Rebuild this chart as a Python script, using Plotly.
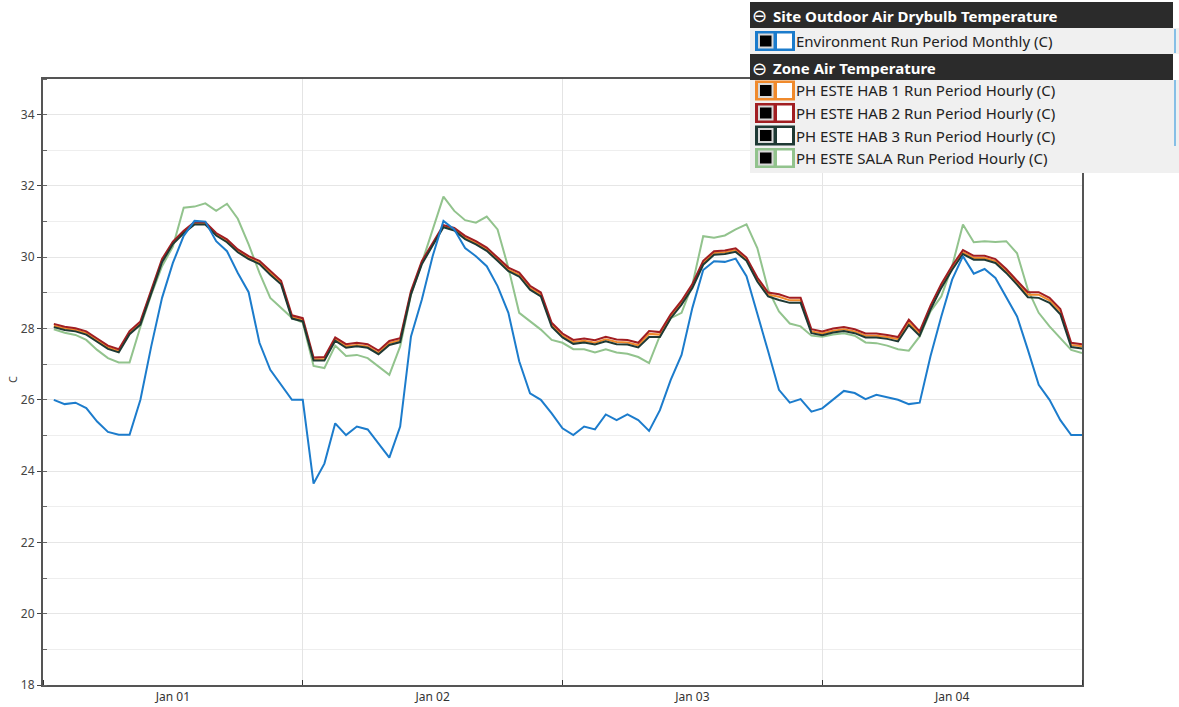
import pandas as pd
import plotly.graph_objects as go

# hourly values, hour-ending 01:00 Jan 01 .. 24:00 Jan 04
outdoor = [26.0, 25.88, 25.92, 25.77, 25.39, 25.1, 25.02, 25.02, 26.0, 27.5, 28.86, 29.84,
           30.6, 31.02, 31.0, 30.45, 30.17, 29.56, 29.02, 27.6, 26.84, 26.42, 26.0, 26.0,
           23.65, 24.21, 25.34, 25.01, 25.25, 25.17, 24.78, 24.38, 25.25, 27.78, 28.81, 30.03,
           31.02, 30.78, 30.26, 30.03, 29.75, 29.19, 28.44, 27.08, 26.18, 26.0, 25.62, 25.2,
           25.01, 25.25, 25.17, 25.59, 25.43, 25.59, 25.43, 25.13, 25.71, 26.56, 27.26, 28.58,
           29.64, 29.89, 29.87, 29.96, 29.47, 28.44, 27.36, 26.28, 25.92, 26.02, 25.67, 25.76,
           26.0, 26.25, 26.19, 26.02, 26.14, 26.07, 26.0, 25.88, 25.92, 27.22, 28.34, 29.37,
           30.03, 29.54, 29.67, 29.42, 28.9, 28.34, 27.4, 26.42, 26.0, 25.43, 25.01, 25.01]

hab1 = [28.08, 28.0, 27.96, 27.87, 27.67, 27.47, 27.37, 27.88, 28.15, 29.05, 29.9, 30.4,
        30.7, 30.95, 30.95, 30.64, 30.45, 30.17, 29.98, 29.84, 29.55, 29.28, 28.32, 28.24,
        27.14, 27.14, 27.7, 27.5, 27.54, 27.5, 27.32, 27.59, 27.67, 29.0, 29.84, 30.36,
        30.87, 30.78, 30.55, 30.4, 30.22, 29.94, 29.65, 29.51, 29.14, 28.95, 28.1, 27.8,
        27.62, 27.66, 27.6, 27.7, 27.62, 27.61, 27.53, 27.85, 27.83, 28.34, 28.72, 29.19,
        29.84, 30.12, 30.14, 30.2, 29.94, 29.37, 28.95, 28.89, 28.79, 28.79, 27.92, 27.86,
        27.94, 27.98, 27.92, 27.8, 27.8, 27.76, 27.7, 28.17, 27.85, 28.58, 29.19, 29.7,
        30.14, 29.98, 29.98, 29.89, 29.61, 29.28, 28.95, 28.95, 28.79, 28.48, 27.54, 27.5]

hab2 = [28.13, 28.05, 28.01, 27.92, 27.72, 27.52, 27.42, 27.93, 28.2, 29.1, 29.95, 30.44,
        30.74, 30.99, 30.98, 30.68, 30.5, 30.22, 30.03, 29.9, 29.61, 29.34, 28.37, 28.29,
        27.19, 27.2, 27.75, 27.56, 27.6, 27.56, 27.38, 27.65, 27.73, 29.05, 29.89, 30.4,
        30.9, 30.82, 30.6, 30.45, 30.27, 29.99, 29.71, 29.57, 29.2, 29.01, 28.16, 27.86,
        27.68, 27.72, 27.67, 27.77, 27.69, 27.68, 27.6, 27.93, 27.9, 28.4, 28.78, 29.25,
        29.9, 30.17, 30.19, 30.25, 29.99, 29.43, 29.01, 28.96, 28.86, 28.86, 27.98, 27.92,
        28.0, 28.04, 27.98, 27.86, 27.86, 27.82, 27.76, 28.25, 27.92, 28.64, 29.25, 29.76,
        30.2, 30.04, 30.04, 29.95, 29.67, 29.34, 29.02, 29.02, 28.86, 28.55, 27.6, 27.56]

hab3 = [28.04, 27.96, 27.92, 27.83, 27.63, 27.43, 27.33, 27.84, 28.11, 29.01, 29.86, 30.37,
        30.67, 30.92, 30.92, 30.61, 30.42, 30.14, 29.95, 29.81, 29.51, 29.24, 28.28, 28.2,
        27.1, 27.1, 27.66, 27.46, 27.5, 27.46, 27.28, 27.54, 27.62, 28.96, 29.8, 30.33,
        30.84, 30.75, 30.51, 30.36, 30.18, 29.9, 29.61, 29.46, 29.09, 28.9, 28.05, 27.75,
        27.57, 27.61, 27.55, 27.64, 27.56, 27.55, 27.47, 27.76, 27.76, 28.29, 28.67, 29.14,
        29.79, 30.07, 30.09, 30.15, 29.9, 29.32, 28.9, 28.8, 28.72, 28.72, 27.87, 27.81,
        27.89, 27.93, 27.87, 27.75, 27.75, 27.71, 27.64, 28.1, 27.8, 28.53, 29.14, 29.65,
        30.09, 29.93, 29.93, 29.84, 29.56, 29.23, 28.88, 28.86, 28.72, 28.4, 27.48, 27.44]

sala = [27.98, 27.88, 27.82, 27.68, 27.4, 27.17, 27.05, 27.05, 28.05, 28.95, 29.75, 30.3,
        31.39, 31.42, 31.51, 31.3, 31.5, 31.08, 30.36, 29.56, 28.86, 28.58, 28.3, 28.17,
        26.95, 26.89, 27.52, 27.23, 27.26, 27.17, 26.93, 26.7, 27.5, 28.95, 29.84, 30.78,
        31.7, 31.3, 31.04, 30.97, 31.14, 30.78, 29.7, 28.44, 28.2, 27.97, 27.68, 27.6,
        27.42, 27.42, 27.33, 27.42, 27.33, 27.29, 27.2, 27.03, 27.8, 28.29, 28.44, 29.23,
        30.59, 30.55, 30.61, 30.78, 30.92, 30.26, 29.09, 28.48, 28.14, 28.06, 27.8, 27.77,
        27.83, 27.87, 27.8, 27.61, 27.59, 27.52, 27.42, 27.38, 27.78, 28.48, 28.9, 29.75,
        30.92, 30.42, 30.45, 30.43, 30.45, 30.11, 29.09, 28.44, 28.06, 27.73, 27.4, 27.31]

times = pd.date_range('2023-01-01 01:00', periods=96, freq='h')

colors = {'out': '#1c7ccc', 'hab1': '#f08a2c', 'hab2': '#a11e22',
          'hab3': '#1e3934', 'sala': '#92c38d'}

fig = go.Figure()
for name, ys, col in [('PH ESTE SALA', sala, colors['sala']),
                      ('PH ESTE HAB 1', hab1, colors['hab1']),
                      ('PH ESTE HAB 2', hab2, colors['hab2']),
                      ('PH ESTE HAB 3', hab3, colors['hab3']),
                      ('Environment', outdoor, colors['out'])]:
    fig.add_trace(go.Scatter(x=times, y=ys, mode='lines', name=name,
                             line=dict(color=col, width=2)))

W, H = 1179, 707
ML, MR, MT, MB = 43, 97, 79, 22
PW, PH = W - ML - MR, H - MT - MB


def fx(px):
    return (px - ML) / PW


def fy(py):
    return (H - MB - py) / PH


shapes = []
annots = []


def rect(x0, y0, x1, y1, fill):
    shapes.append(dict(type='rect', xref='paper', yref='paper', layer='above',
                       x0=fx(x0), x1=fx(x1), y0=fy(y1), y1=fy(y0),
                       fillcolor=fill, line=dict(width=0)))


def text(x, y, s, size=14, color='#222', family='Noto Sans'):
    annots.append(dict(xref='paper', yref='paper', x=fx(x), y=fy(y), text=s,
                       showarrow=False, xanchor='left', yanchor='middle',
                       font=dict(size=size, color=color, family=family)))


# legend panel (top right)
rect(750, 28, 1179, 54, '#f0f0f0')
rect(750, 80, 1179, 173, '#f0f0f0')
rect(750, 2, 1173, 28, '#2b2b2b')
rect(750, 54, 1173, 80, '#2b2b2b')
for y0, y1 in [(29, 53), (80, 146)]:
    shapes.append(dict(type='line', xref='paper', yref='paper', layer='above',
                       x0=fx(1175), x1=fx(1175), y0=fy(y0), y1=fy(y1),
                       line=dict(color='#86bfe6', width=2)))

text(750, 16, '⊖', size=18, color='white', family='DejaVu Sans')
text(771, 16, '<b>Site Outdoor Air Drybulb Temperature</b>', size=15, color='white')
text(750, 68, '⊖', size=18, color='white', family='DejaVu Sans')
text(771, 68, '<b>Zone Air Temperature</b>', size=15, color='white')

rows = [(41, colors['out'], 'Environment Run Period Monthly (C)'),
        (90.5, colors['hab1'], 'PH ESTE HAB 1 Run Period Hourly (C)'),
        (113, colors['hab2'], 'PH ESTE HAB 2 Run Period Hourly (C)'),
        (135.5, colors['hab3'], 'PH ESTE HAB 3 Run Period Hourly (C)'),
        (158, colors['sala'], 'PH ESTE SALA Run Period Hourly (C)')]
for cy, col, label in rows:
    rect(755, cy - 10, 795, cy + 10, col)
    rect(758, cy - 7.5, 773.5, cy + 7.5, '#d8d8d8')
    rect(760, cy - 5.5, 771.5, cy + 5.5, '#000000')
    rect(777, cy - 7.5, 792, cy + 7.5, '#ffffff')
    text(794, cy, label, size=15, color='#222')

# y axis title
annots.append(dict(xref='paper', yref='paper', x=fx(12), y=fy(380), text='C',
                   showarrow=False, textangle=-90, xanchor='center', yanchor='middle',
                   font=dict(size=11, color='#444', family='Noto Sans')))

fig.update_layout(
    width=W, height=H, showlegend=False, autosize=False,
    margin=dict(l=ML, r=MR, t=MT, b=MB, pad=0, autoexpand=False),
    paper_bgcolor='white', plot_bgcolor='white',
    font=dict(family='Noto Sans', size=11, color='#444'),
    shapes=shapes, annotations=annots,
    xaxis=dict(type='date', range=['2023-01-01 00:00', '2023-01-05 00:00'],
               tick0='2023-01-01', dtick=86400000, tickformat='%b %d',
               ticklabelmode='period', ticks='inside', ticklen=5, tickcolor='#333',
               showgrid=True, gridcolor='#e4e4e4', gridwidth=1, automargin=False,
               showline=True, linecolor='#555', linewidth=2, mirror=True,
               zeroline=False, tickfont=dict(size=12, color='#333')),
    yaxis=dict(range=[18, 35], tick0=18, dtick=2, ticks='outside', ticklen=4,
               tickcolor='#444', showgrid=True, gridcolor='#e6e6e6', gridwidth=1,
               minor=dict(dtick=1, tick0=17, ticks='inside', ticklen=4, tickcolor='#666',
                          showgrid=True, gridcolor='#eeeeee'),
               showline=True, linecolor='#555', linewidth=2, mirror=True, automargin=False,
               zeroline=False, tickfont=dict(size=12, color='#444')),
)

fig.write_html('out.html', config={'displayModeBar': False},
               post_script="document.body.style.margin='0';")
